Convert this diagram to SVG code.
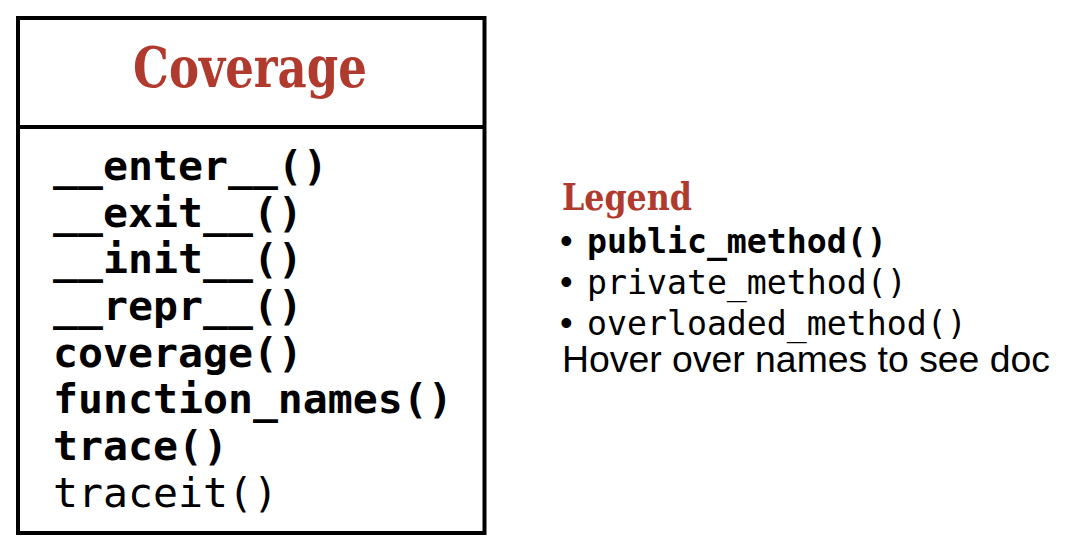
<svg xmlns="http://www.w3.org/2000/svg" width="1075" height="554" viewBox="0 0 1075 554">
<style>
.title{font-family:"DejaVu Serif",serif;font-weight:bold;fill:#b03a2e}
.m{font-family:"DejaVu Sans Mono",monospace;font-size:41.5px;fill:#000}
.pub{font-weight:bold}
.lm{font-family:"DejaVu Sans Mono",monospace;font-size:33.2px;fill:#000}
.sans{font-family:"Liberation Sans",Arial,sans-serif;font-size:36px;fill:#000}
</style>
<rect width="1075" height="554" fill="#fff"/>
<g id="Coverage">
<rect x="18" y="18" width="466.5" height="515" fill="none" stroke="#000" stroke-width="4"/>
<line x1="18" y1="127" x2="484.5" y2="127" stroke="#000" stroke-width="4"/>
<text class="title" x="250" y="87" font-size="56" text-anchor="middle" textLength="234" lengthAdjust="spacingAndGlyphs">Coverage</text>
<text class="m pub" x="53" y="180">__enter__()</text>
<text class="m pub" x="53" y="226.7">__exit__()</text>
<text class="m pub" x="53" y="273.3">__init__()</text>
<text class="m pub" x="53" y="320">__repr__()</text>
<text class="m pub" x="53" y="366.7">coverage()</text>
<text class="m pub" x="53" y="413.3">function_names()</text>
<text class="m pub" x="53" y="460">trace()</text>
<text class="m" x="53" y="506.7">traceit()</text>
</g>
<g id="legend">
<text class="title" x="562" y="210" font-size="38" textLength="130" lengthAdjust="spacingAndGlyphs">Legend</text>
<text class="sans" x="560" y="253" font-size="34">•</text>
<text class="lm pub" x="587" y="253">public_method()</text>
<text class="sans" x="560" y="294" font-size="34">•</text>
<text class="lm" x="587" y="294">private_method()</text>
<text class="sans" x="560" y="335" font-size="34">•</text>
<text class="lm" x="587" y="335">overloaded_method()</text>
<text class="sans" x="562" y="372" textLength="488" lengthAdjust="spacingAndGlyphs">Hover over names to see doc</text>
</g>
<g id="connectors"/>
</svg>
